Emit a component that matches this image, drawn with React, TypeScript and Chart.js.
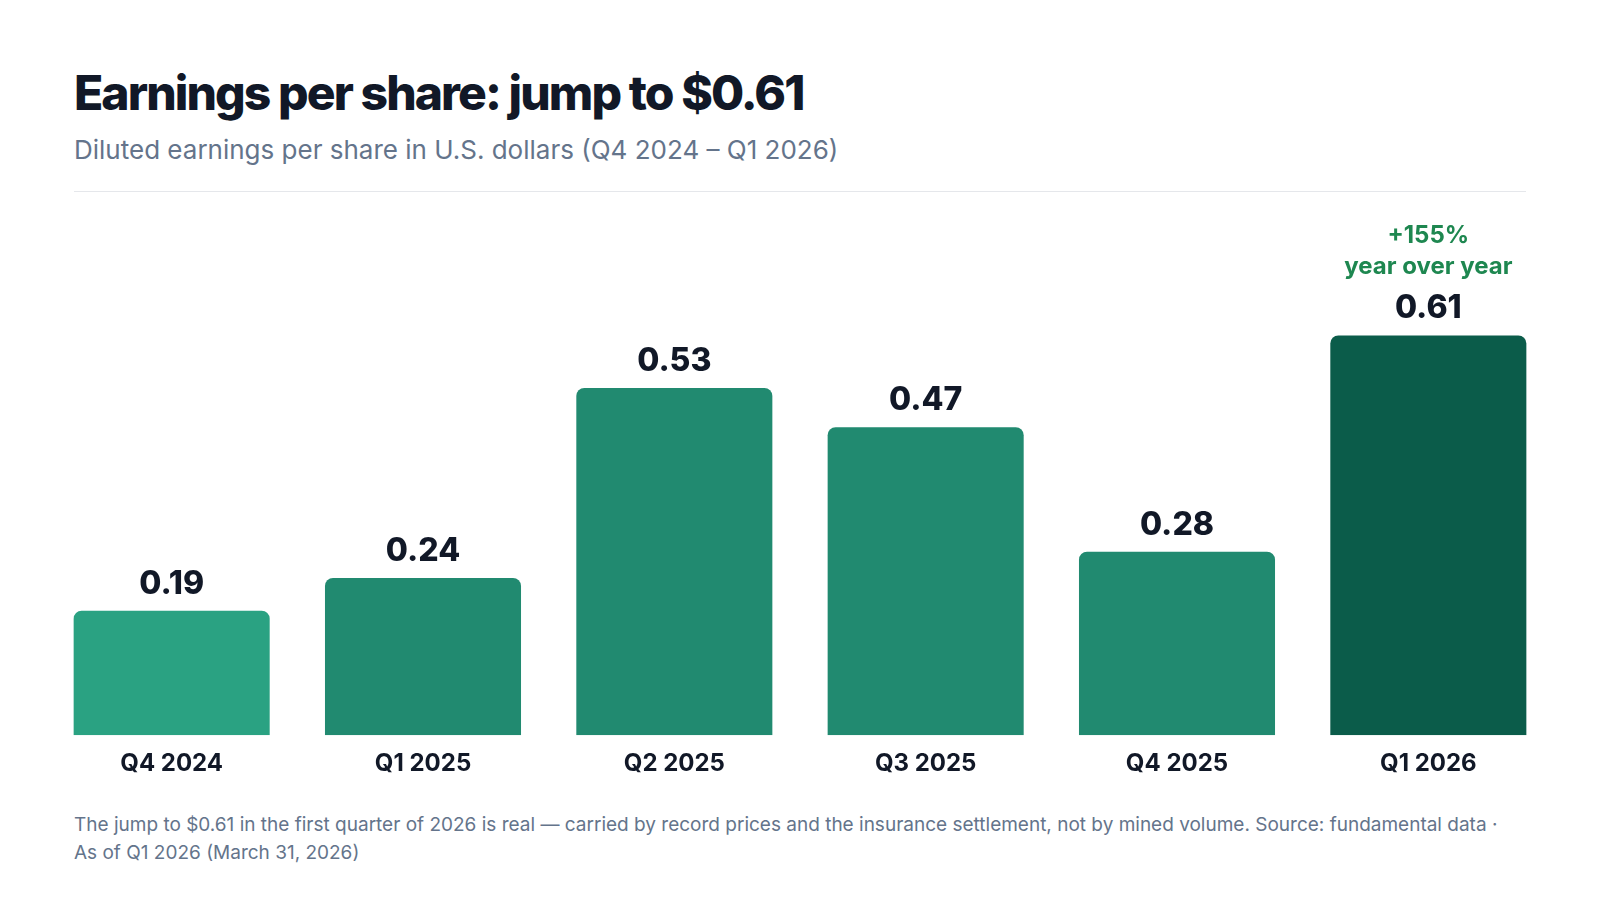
import React, { useEffect, useRef } from "react";
import { Chart, registerables } from "chart.js";

Chart.register(...registerables);

const categories = ["Q4 2024", "Q1 2025", "Q2 2025", "Q3 2025", "Q4 2025", "Q1 2026"];
const epsValues = [0.19, 0.24, 0.53, 0.47, 0.28, 0.61];
const valueLabels = ["0.19", "0.24", "0.53", "0.47", "0.28", "0.61"];
const barColors = ["#2aa282", "#218a70", "#218a70", "#218a70", "#218a70", "#0b5c4a"];
const annotationLines = ["+155%", "year over year"];

const FONT = "Inter, 'Noto Sans', sans-serif";

const labelPlugin = {
  id: "valueLabels",
  afterDatasetsDraw(chart: any) {
    const ctx = chart.ctx;
    const meta = chart.getDatasetMeta(0);
    ctx.save();
    ctx.textAlign = "center";
    ctx.textBaseline = "alphabetic";
    meta.data.forEach((bar: any, i: number) => {
      const x = bar.x;
      const y = bar.y - 17;
      ctx.fillStyle = "#111827";
      ctx.font = `800 32px ${FONT}`;
      ctx.fillText(valueLabels[i], x, y);
      if (i === meta.data.length - 1) {
        ctx.fillStyle = "#1e8750";
        ctx.font = `700 24px ${FONT}`;
        ctx.fillText(annotationLines[1], x, y - 44);
        ctx.fillText(annotationLines[0], x, y - 75);
      }
    });
    ctx.restore();
  },
};

export default function App() {
  const ref = useRef<HTMLCanvasElement | null>(null);

  useEffect(() => {
    if (!ref.current) return;
    const chart = new Chart(ref.current, {
      type: "bar",
      data: {
        labels: categories,
        datasets: [
          {
            data: epsValues,
            backgroundColor: barColors,
            borderRadius: 8,
            borderSkipped: "start",
            barPercentage: 0.78,
            categoryPercentage: 1,
          },
        ],
      },
      options: {
        responsive: false,
        animation: false,
        layout: { padding: { top: 21, bottom: 0, left: 0, right: 0 } },
        plugins: {
          legend: { display: false },
          tooltip: { enabled: false },
        },
        scales: {
          x: {
            grid: { display: false, drawTicks: false },
            border: { display: false },
            ticks: {
              color: "#111827",
              font: { family: FONT, size: 24, weight: "700" as any },
              padding: 14,
              maxRotation: 0,
              autoSkip: false,
            },
          },
          y: {
            display: false,
            min: 0,
            max: 0.8,
          },
        },
      },
      plugins: [labelPlugin],
    });
    return () => chart.destroy();
  }, []);

  return (
    <div
      style={{
        position: "absolute",
        left: 0,
        top: 0,
        width: 1600,
        height: 900,
        background: "#ffffff",
        fontFamily: FONT,
        overflow: "hidden",
      }}
    >
      <div
        style={{
          position: "absolute",
          left: 74,
          top: 68.6,
          fontSize: 48,
          lineHeight: "48px",
          fontWeight: 800,
          color: "#111827",
          letterSpacing: "-1.9px",
          whiteSpace: "nowrap",
        }}
      >
        Earnings per share: jump to $0.61
      </div>
      <div
        style={{
          position: "absolute",
          left: 74,
          top: 136.6,
          fontSize: 26,
          lineHeight: "26px",
          fontWeight: 400,
          color: "#64748b",
          whiteSpace: "nowrap",
        }}
      >
        Diluted earnings per share in U.S. dollars (Q4 2024 – Q1 2026)
      </div>
      <div
        style={{
          position: "absolute",
          left: 74,
          top: 191,
          width: 1452,
          height: 1,
          background: "#e5e7eb",
        }}
      />
      <canvas
        ref={ref}
        width={1508}
        height={602}
        style={{ position: "absolute", left: 46, top: 190, width: 1508, height: 602 }}
      />
      <div
        style={{
          position: "absolute",
          left: 74,
          top: 810.8,
          width: 1470,
          fontSize: 19,
          lineHeight: "28px",
          color: "#64748b",
          whiteSpace: "nowrap",
        }}
      >
        The jump to $0.61 in the first quarter of 2026 is real — carried by record prices and the insurance settlement, not by mined volume. Source: fundamental data ·
        <br />
        As of Q1 2026 (March 31, 2026)
      </div>
    </div>
  );
}
